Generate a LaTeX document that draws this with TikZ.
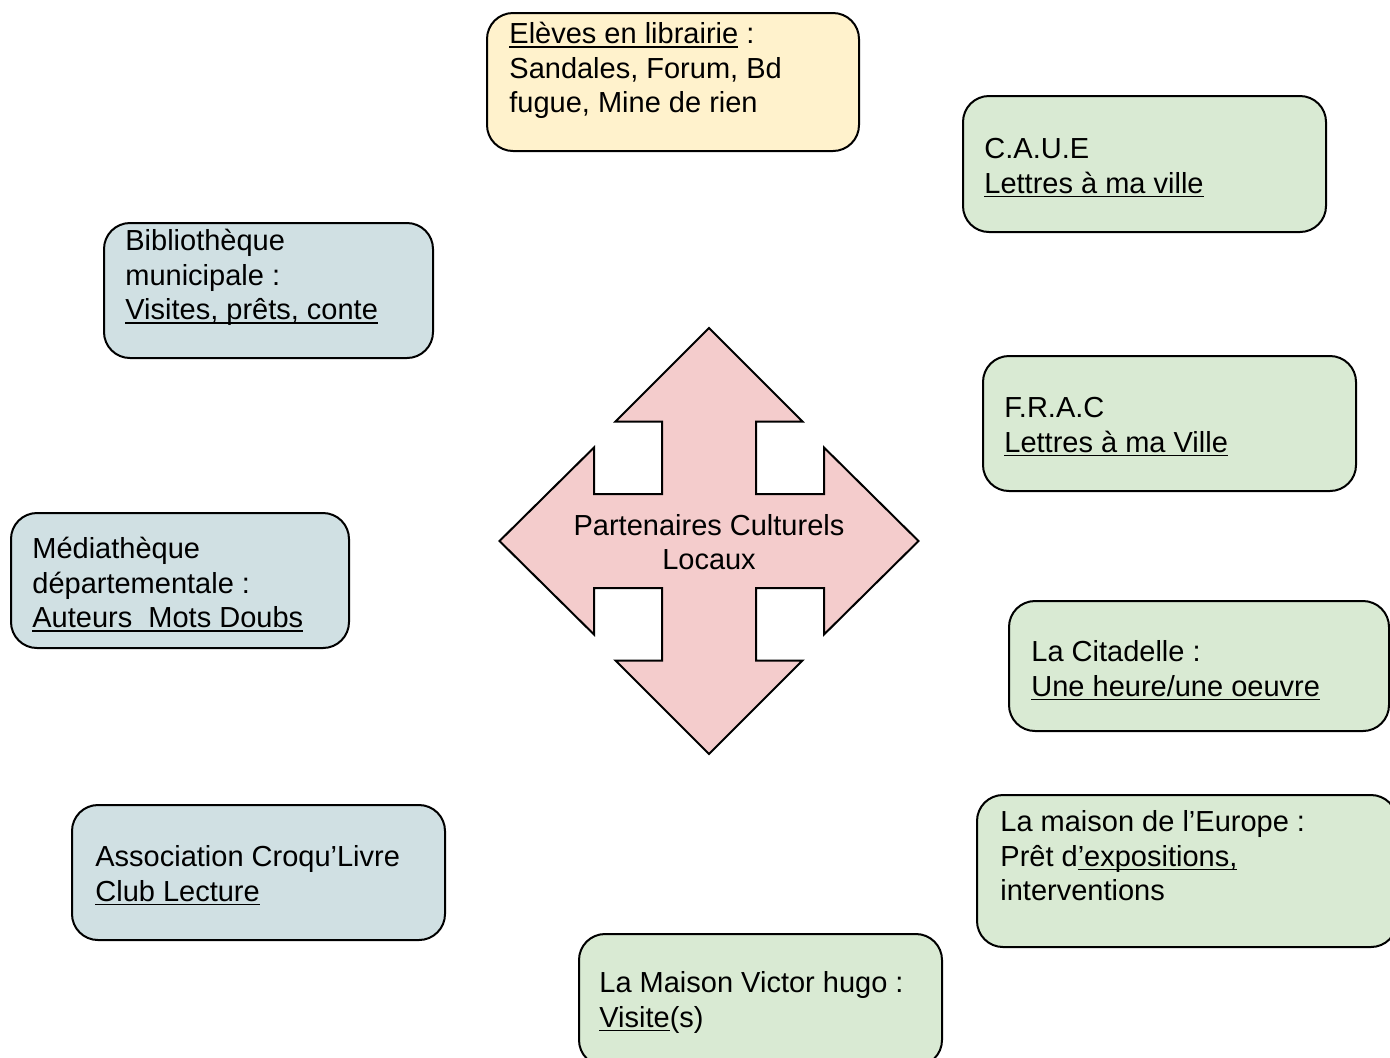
\documentclass[tikz,border=0pt]{standalone}
\usepackage{fontspec}
\setmainfont{Liberation Sans}

\definecolor{boxyellow}{HTML}{FFF2CC}
\definecolor{boxgreen}{HTML}{D9EAD3}
\definecolor{boxblue}{HTML}{D0E0E3}
\definecolor{arrowpink}{HTML}{F4CCCC}

% underline at a fixed depth below the baseline
\newcommand{\undl}[1]{\setbox0\hbox{#1}\rlap{\rule[-2.2pt]{\wd0}{0.8pt}}\box0\relax}

\tikzset{
  partner/.style={draw=black, line width=1pt, rounded corners=13pt, inner sep=0pt},
  partnertext/.style={anchor=north west, align=left, inner sep=0pt,
    font=\fontsize{14.5}{17.25}\selectfont},
}

\begin{document}
\begin{tikzpicture}[x=0.5pt, y=-0.5pt]

    % Fix the page to the size of the picture
    \useasboundingbox (0,0) rectangle (1390,1057);
    \clip (0,0) rectangle (1390,1057);

    % Define the centre of the four-way arrow
    \coordinate (O) at (709,541);

    % Draw the four-way arrow
    \draw[line width=1pt, fill=arrowpink, shift={(O)}]
        (0,-213) -- (93.5,-119.5) -- (47,-119.5) -- (47,-47) -- (115,-47)
        -- (115,-93.5) -- (209.5,0) -- (115,93.5) -- (115,47) -- (47,47)
        -- (47,119.5) -- (93.5,119.5) -- (0,213) -- (-93.5,119.5) -- (-47,119.5)
        -- (-47,47) -- (-115,47) -- (-115,93.5) -- (-209.5,0) -- (-115,-93.5)
        -- (-115,-47) -- (-47,-47) -- (-47,-119.5) -- (-93.5,-119.5) -- cycle;
    \node[align=center, inner sep=0pt, font=\fontsize{14.5}{17.25}\selectfont]
        (hubtext) at (709,542) {Partenaires Culturels\\Locaux};

    % Draw the partner boxes
    \node[partner, fill=boxyellow, minimum width=186pt, minimum height=69pt] (eleves) at (673,82) {};
    \node[partner, fill=boxgreen, minimum width=181.5pt, minimum height=68pt] (caue) at (1144.5,164) {};
    \node[partner, fill=boxblue, minimum width=164.5pt, minimum height=67.5pt] (biblio) at (268.5,290.5) {};
    \node[partner, fill=boxgreen, minimum width=186.5pt, minimum height=67.5pt] (frac) at (1169.5,423.5) {};
    \node[partner, fill=boxblue, minimum width=169pt, minimum height=67.5pt] (media) at (180,580.5) {};
    \node[partner, fill=boxgreen, minimum width=190pt, minimum height=65pt] (citadelle) at (1199,666) {};
    \node[partner, fill=boxblue, minimum width=186.5pt, minimum height=67.5pt] (croqu) at (258.5,872.5) {};
    \node[partner, fill=boxgreen, minimum width=210pt, minimum height=76pt] (europe) at (1187,871) {};
    \node[partner, fill=boxgreen, minimum width=181.5pt, minimum height=66pt] (hugo) at (760.5,1000) {};

    % Label the boxes exactly as shown in the image
    \node[partnertext] (elevestext) at (509,19)
        {\strut\undl{Elèves en librairie} :\\Sandales, Forum, Bd\\fugue, Mine de rien};
    \node[partnertext] (cauetext) at (984,134)
        {\strut C.A.U.E\\\undl{Lettres à ma ville}};
    \node[partnertext] (bibliotext) at (125,226)
        {\strut Bibliothèque\\municipale :\\\undl{Visites, prêts, conte}};
    \node[partnertext] (fractext) at (1004,393)
        {\strut F.R.A.C\\\undl{Lettres à ma Ville}};
    \node[partnertext] (mediatext) at (32,534)
        {\strut Médiathèque\\départementale :\\\undl{Auteurs\ \ Mots Doubs}};
    \node[partnertext] (citadelletext) at (1031,637)
        {\strut La Citadelle :\\\undl{Une heure/une oeuvre}};
    \node[partnertext] (croqutext) at (95,842)
        {\strut Association Croqu’Livre\\\undl{Club Lecture}};
    \node[partnertext] (europetext) at (1000,807)
        {\strut La maison de l'Europe :\\Prêt d\undl{’expositions,}\\interventions};
    \node[partnertext] (hugotext) at (599,968)
        {\strut La Maison Victor hugo :\\\undl{Visite}(s)};

\end{tikzpicture}
\end{document}
